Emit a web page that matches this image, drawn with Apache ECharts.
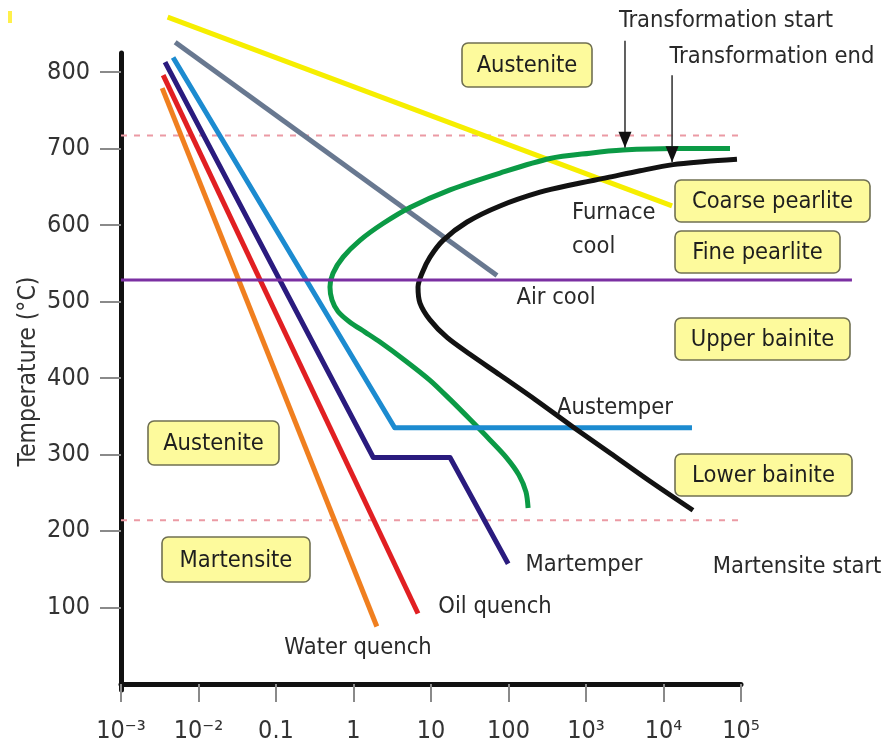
<!DOCTYPE html>
<html>
<head>
<meta charset="utf-8">
<script src="https://cdn.jsdelivr.net/npm/echarts@6/dist/echarts.min.js"></script>
<style>
  html, body { margin: 0; padding: 0; background: #fff; }
  #chart { width: 885px; height: 744px; }
</style>
</head>
<body>
<div id="chart"></div>
<script>
// Cooling paths on a continuous-cooling transformation diagram.
// x: time (s, log scale), y: temperature (°C)

const xTickLabels = ['10\u207B\u00B3', '10\u207B\u00B2', '0.1', '1', '10', '100', '10\u00B3', '10\u2074', '10\u2075'];
const yTickValues = [100, 200, 300, 400, 500, 600, 700, 800];

// cooling paths [time, temperature]
const furnaceCool = [[0.004, 872], [12900, 625]];
const airCool = [[0.005, 839], [71, 534]];
const austemper = [[0.0047, 819], [3.4, 335], [23300, 335]];
const martemper = [[0.0037, 813], [1.8, 296], [17.6, 296], [99, 157]];
const oilQuench = [[0.0035, 796], [6.8, 92]];
const waterQuench = [[0.0034, 779], [2.0, 75]];

// reference temperatures
const noseTemp = [[0.001, 528], [2.7e6, 528]];
const a1Temp = [[0.001, 717], [1e5, 717]];
const msTemp = [[0.001, 214], [1e5, 214]];

// transformation start / end curves
const transStart = [
  [72100, 700], [13270, 700], [3000, 698], [1127, 694], [343, 687], [77.6, 668],
  [17.6, 646], [5.36, 623], [2.4, 602], [1.21, 580], [0.733, 558], [0.544, 537],
  [0.497, 519], [0.528, 502], [0.631, 487], [0.901, 473], [1.41, 460], [2.2, 447],
  [4.62, 423], [9.71, 397], [17.6, 372], [31.8, 346], [57.7, 319], [95.7, 295],
  [136.5, 273], [168, 251], [179, 230]
];
const transEnd = [
  [88700, 686], [34300, 683], [13270, 679], [4980, 671], [1866, 662], [679, 653],
  [255, 643], [77.6, 625], [29.2, 604], [14.3, 580], [9.7, 558], [7.66, 537],
  [6.8, 519], [7.21, 498], [9.7, 476], [16.1, 453], [31.8, 431], [77.6, 404],
  [220, 372], [679, 336], [2042, 302], [6700, 265], [24000, 227]
];

// pointer arrows [time, top temperature, tip temperature]
const startArrow = [3185, 841, 701];
const endArrow = [12900, 796, 682];

// wider extent used by the nose-temperature line, which runs past the last tick
const noseAxisMax = Math.pow(10, 6.432);

const FONT = "'Liberation Sans Narrow','Arial Narrow','DejaVu Sans Condensed','Liberation Sans',sans-serif";
const TEXT_COLOR = '#2a2a2a';
const TEXT_SIZE = 23.5;

function path(name, data, color, width, extra) {
  return Object.assign({
    type: 'line', name: name, data: data, symbol: 'none', clip: false,
    silent: true, animation: false,
    lineStyle: { color: color, width: width, cap: 'butt', join: 'round' }
  }, extra || {});
}

function arrow(name, a) {
  return {
    type: 'line', name: name, clip: false, silent: true, animation: false,
    symbol: 'none', showSymbol: true, z: 5,
    lineStyle: { color: '#3a3a3a', width: 1.6 },
    itemStyle: { color: '#111' },
    data: [
      [a[0], a[1]],
      { value: [a[0], a[2]], symbol: 'triangle', symbolSize: [13, 16], symbolRotate: 180, symbolOffset: [0, -8] }
    ]
  };
}

function box(text, x, y, w, h) {
  return [
    { type: 'rect', silent: true, z: 50,
      shape: { x: x, y: y, width: w, height: h, r: 6 },
      style: { fill: '#fdfa9c', stroke: '#707052', lineWidth: 1.6 } },
    { type: 'text', silent: true, z: 51, x: x + w / 2, y: y + h / 2 + 1,
      style: { text: text, font: TEXT_SIZE + 'px ' + FONT, fill: '#1e1e1e',
               align: 'center', verticalAlign: 'middle',
               textAlign: 'center', textVerticalAlign: 'middle' } }
  ];
}

function note(text, x, y, align) {
  return { type: 'text', silent: true, z: 52, x: x, y: y,
    style: { text: text, font: TEXT_SIZE + 'px ' + FONT, fill: TEXT_COLOR, lineHeight: 34,
             align: align || 'center', verticalAlign: 'middle',
             textAlign: align || 'center', textVerticalAlign: 'middle' } };
}

const chart = echarts.init(document.getElementById('chart'), null, { renderer: 'canvas' });

const hiddenAxis = {
  show: false, axisLine: { show: false }, axisTick: { show: false },
  axisLabel: { show: false }, splitLine: { show: false }
};

const option = {
  animation: false,
  backgroundColor: '#ffffff',
  grid: [
    { left: 121, right: 144, top: 53, bottom: 54, outerBoundsMode: 'none', containLabel: false },
    { left: 121, right: 33, top: 53, bottom: 54, outerBoundsMode: 'none', containLabel: false }
  ],
  xAxis: [
    {
      gridIndex: 0, type: 'log', logBase: 10, min: 0.001, max: 1e5, interval: 1,
      axisLine: { show: true, lineStyle: { color: '#111', width: 5 } },
      axisTick: { show: true, length: 18, lineStyle: { color: '#8a8a8a', width: 2 } },
      splitLine: { show: false },
      axisLabel: {
        margin: 29, color: '#333', fontSize: 25, fontFamily: FONT,
        formatter: function (v) { return xTickLabels[Math.round(Math.log10(v)) + 3]; }
      }
    },
    Object.assign({ gridIndex: 1, type: 'log', logBase: 10, min: 0.001, max: noseAxisMax }, hiddenAxis)
  ],
  yAxis: [
    {
      gridIndex: 0, type: 'value', min: -8, max: 825,
      name: 'Temperature (\u00B0C)', nameLocation: 'middle', nameGap: 80, nameMoveOverlap: false,
      nameTextStyle: { fontSize: 24.5, color: '#333', fontFamily: FONT },
      axisLine: { show: true, lineStyle: { color: '#111', width: 5 } },
      axisTick: { show: true, length: 21, customValues: yTickValues, lineStyle: { color: '#8a8a8a', width: 2 } },
      axisLabel: { margin: 31, color: '#333', fontSize: 25, fontFamily: FONT, customValues: yTickValues },
      splitLine: { show: false }
    },
    Object.assign({ gridIndex: 1, type: 'value', min: -8, max: 825 }, hiddenAxis)
  ],
  series: [
    path('A1', a1Temp, '#eb9aa4', 2, { lineStyle: { color: '#eb9aa4', width: 2, type: [6, 7] } }),
    path('Ms', msTemp, '#eb9aa4', 2, { lineStyle: { color: '#eb9aa4', width: 2, type: [6, 7] } }),
    path('Furnace cool', furnaceCool, '#f6ee00', 5),
    path('Air cool', airCool, '#687890', 5),
    path('Transformation start', transStart, '#0b9a45', 5, { smooth: 0.3 }),
    path('Austemper', austemper, '#1c8bd0', 5),
    path('Transformation end', transEnd, '#121212', 5, { smooth: 0.3 }),
    path('Martemper', martemper, '#2a1b7e', 5),
    path('Oil quench', oilQuench, '#e11f22', 5),
    path('Water quench', waterQuench, '#f07f1f', 5),
    path('Nose', noseTemp, '#7b2fa2', 3, { xAxisIndex: 1, yAxisIndex: 1 }),
    arrow('start arrow', startArrow),
    arrow('end arrow', endArrow)
  ],
  graphic: [].concat(
    [{ type: 'rect', silent: true, shape: { x: 8, y: 11, width: 4, height: 12 }, style: { fill: '#fff04a' } }],
    box('Austenite', 462, 43, 130, 44),
    box('Coarse pearlite', 675, 180, 195, 42),
    box('Fine pearlite', 675, 231, 165, 42),
    box('Upper bainite', 675, 318, 175, 42),
    box('Lower bainite', 675, 454, 177, 42),
    box('Austenite', 148, 421, 131, 44),
    box('Martensite', 162, 537, 148, 45),
    [
      note('Transformation start', 726, 21),
      note('Transformation end', 772, 57),
      note('Furnace\ncool', 572, 230, 'left'),
      note('Air cool', 556, 298),
      note('Austemper', 615, 408),
      note('Martemper', 584, 565),
      note('Martensite start', 797, 567),
      note('Oil quench', 495, 607),
      note('Water quench', 358, 648)
    ]
  )
};

chart.setOption(option);
</script>
</body>
</html>
